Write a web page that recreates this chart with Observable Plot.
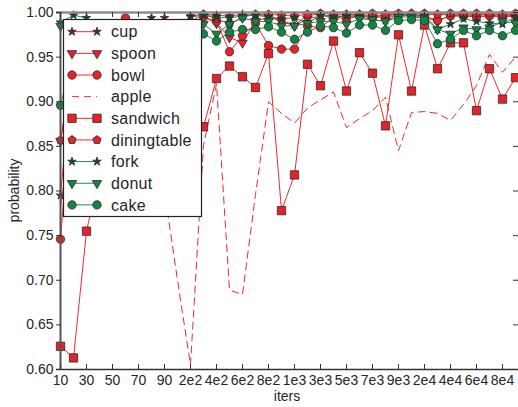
<!DOCTYPE html>
<html>
<head>
<meta charset="utf-8">
<script src="https://cdn.jsdelivr.net/npm/d3@7"></script>
<script src="https://cdn.jsdelivr.net/npm/@observablehq/plot@0.6"></script>
<style>
  html, body { margin: 0; padding: 0; background: #fff; }
  #chart { width: 518px; height: 407px; }
</style>
</head>
<body>
<div id="chart"></div>
<script>
// ---- data ----
const iters = [10,20,30,40,50,60,70,80,90,
  100,200,300,400,500,600,700,800,900,
  1000,2000,3000,4000,5000,6000,7000,8000,9000,
  10000,20000,30000,40000,50000,60000,70000,80000,90000];
const tickIters = [10,30,50,70,90,200,400,600,800,1000,3000,5000,7000,9000,20000,40000,60000,80000];
const tickLabels = ["10","30","50","70","90","2e2","4e2","6e2","8e2","1e3","3e3","5e3","7e3","9e3","2e4","4e4","6e4","8e4"];
const yTicks = [0.60,0.65,0.70,0.75,0.80,0.85,0.90,0.95,1.00];
const seriesNames = ["cup","spoon","bowl","apple","sandwich","diningtable","fork","donut","cake"];

const cup = [0.795,0.95,0.97,0.975,0.97,0.975,0.97,0.975,0.994,0.98,0.996,0.998,0.997,0.996,0.998,0.997,0.997,0.991,0.986,0.997,0.998,0.993,0.997,0.998,0.993,0.998,0.998,0.999,0.998,0.998,0.997,0.998,0.998,0.998,0.997,0.998];
const spoon = [0.856,0.94,0.96,0.965,0.97,0.965,0.97,0.975,0.97,0.975,0.985,0.995,0.988,0.972,0.966,0.99,0.995,0.99,0.985,0.993,0.996,0.997,0.995,0.997,0.997,0.996,0.998,0.997,0.997,0.99,0.997,0.996,0.997,0.997,0.996,0.997];
const bowl = [0.746,0.93,0.95,0.96,0.965,0.994,0.97,0.965,0.97,0.975,0.985,0.995,0.99,0.956,0.974,0.988,0.963,0.959,0.959,0.985,0.983,0.995,0.993,0.996,0.996,0.994,0.997,0.997,0.994,0.991,0.996,0.996,0.995,0.996,0.995,0.996];
const apple = [0.783,0.88,0.9,0.92,0.9,0.91,0.9,0.88,0.80,0.70,0.605,0.851,0.920,0.689,0.684,0.796,0.900,0.887,0.876,0.893,0.902,0.911,0.871,0.881,0.890,0.905,0.845,0.888,0.889,0.887,0.879,0.897,0.918,0.953,0.933,0.950];
const sandwich = [0.626,0.613,0.755,0.82,0.86,0.88,0.85,0.88,0.9,0.87,0.85,0.872,0.926,0.940,0.928,0.916,0.954,0.778,0.818,0.942,0.918,0.968,0.912,0.955,0.932,0.873,0.975,0.912,0.986,0.937,0.966,0.966,0.890,0.937,0.903,0.927];
const diningtable = [0.857,0.95,0.96,0.97,0.975,0.97,0.975,0.97,0.975,0.97,0.99,0.998,0.993,0.987,0.995,0.998,0.998,0.997,0.996,0.998,0.999,0.998,0.998,0.998,0.999,0.998,0.999,0.999,0.999,0.998,0.999,0.999,0.999,0.999,0.998,0.999];
const fork = [0.989,0.997,0.994,0.975,0.97,0.975,0.98,0.994,0.98,0.985,0.995,0.997,0.995,0.994,0.996,0.997,0.995,0.993,0.994,0.988,0.997,0.995,0.996,0.996,0.991,0.991,0.996,0.997,0.997,0.981,0.987,0.993,0.99,0.988,0.987,0.995];
const donut = [0.985,0.97,0.965,0.96,0.965,0.96,0.965,0.97,0.965,0.97,0.98,0.987,0.976,0.987,0.994,0.99,0.99,0.985,0.985,0.988,0.99,0.99,0.987,0.993,0.992,0.99,0.995,0.995,0.994,0.981,0.976,0.983,0.981,0.983,0.99,0.988];
const cake = [0.896,0.955,0.96,0.955,0.96,0.955,0.96,0.955,0.96,0.965,0.97,0.976,0.968,0.978,0.981,0.981,0.984,0.978,0.97,0.978,0.985,0.983,0.977,0.986,0.986,0.98,0.991,0.992,0.991,0.965,0.97,0.98,0.974,0.98,0.974,0.98];

const seriesValues = {cup, spoon, bowl, apple, sandwich, diningtable, fork, donut, cake};

// ---- custom symbols ----
const triangleDown = {
  draw(ctx, size) {
    const a = Math.sqrt(4 * size / Math.sqrt(3));
    const h = a * Math.sqrt(3) / 2;
    ctx.moveTo(-a / 2, -h / 3);
    ctx.lineTo(a / 2, -h / 3);
    ctx.lineTo(0, 2 * h / 3);
    ctx.closePath();
  }
};
const pentagon = {
  draw(ctx, size) {
    const R = Math.sqrt(size / (2.5 * Math.sin(2 * Math.PI / 5)));
    for (let k = 0; k < 5; k++) {
      const ang = -Math.PI / 2 + k * 2 * Math.PI / 5;
      const px = R * Math.cos(ang), py = R * Math.sin(ang);
      if (k === 0) ctx.moveTo(px, py); else ctx.lineTo(px, py);
    }
    ctx.closePath();
  }
};

const RED = "#ee2a2e", REDF = "#e3242b", GREEN = "#1f8b4c", GREENF = "#138443", EDGE = "#2b2b2b";
const styles = {
  cup:         {line: RED,   dash: null,  symbol: d3.symbolStar,   r: 2.7, fill: "#7a1a1a"},
  spoon:       {line: RED,   dash: null,  symbol: triangleDown,    r: 3.5, fill: REDF},
  bowl:        {line: RED,   dash: null,  symbol: d3.symbolCircle, r: 4.2, fill: REDF},
  apple:       {line: RED,   dash: "7,5", symbol: null},
  sandwich:    {line: RED,   dash: null,  symbol: d3.symbolSquare, r: 4.7, fill: REDF},
  diningtable: {line: RED,   dash: null,  symbol: pentagon,        r: 3.8, fill: REDF},
  fork:        {line: GREEN, dash: null,  symbol: d3.symbolStar,   r: 2.7, fill: "#0f4d25"},
  donut:       {line: GREEN, dash: null,  symbol: triangleDown,    r: 3.5, fill: GREENF},
  cake:        {line: GREEN, dash: null,  symbol: d3.symbolCircle, r: 4.2, fill: GREENF}
};

const marks = [];
for (const name of seriesNames) {
  const rows = seriesValues[name].map((p, i) => ({name, iter: iters[i], p}));
  const st = styles[name];
  marks.push(Plot.line(rows, {x: "iter", y: "p", stroke: st.line, strokeWidth: 1,
    strokeDasharray: st.dash || undefined}));
  if (st.symbol) {
    marks.push(Plot.dot(rows, {x: "iter", y: "p", symbol: st.symbol, r: st.r,
      fill: st.fill, stroke: EDGE, strokeWidth: 0.8}));
  }
}

const W = 518, H = 407, ML = 56, MR = 0, MT = 12, MB = 38;
const PW = W - ML - MR, PH = H - MT - MB;

const chart = Plot.plot({
  width: W, height: H,
  marginLeft: ML, marginRight: MR, marginTop: MT, marginBottom: MB,
  style: {fontFamily: "'Liberation Sans', Arial, sans-serif", fontSize: "14px", color: "#262626", background: "#fff", overflow: "visible"},
  x: {type: "point", domain: iters, padding: 0},
  y: {domain: [0.6, 1.0]},
  marks: [
    ...marks,
    // box lines
    Plot.ruleY([1.0], {stroke: "#8c8c8c", strokeWidth: 2.5}),
    Plot.ruleY([0.6], {stroke: "#333", strokeWidth: 1.5}),
    Plot.ruleX([iters[0]], {stroke: "#555", strokeWidth: 2}),
    // inward ticks
    Plot.tickX(tickIters, {x: d => d, insetTop: PH - 5, stroke: "#333", strokeWidth: 1}),
    Plot.tickX(tickIters, {x: d => d, insetBottom: PH - 5, stroke: "#333", strokeWidth: 1}),
    Plot.tickY(yTicks, {y: d => d, insetRight: PW - 5, stroke: "#333", strokeWidth: 1}),
    Plot.tickY(yTicks, {y: d => d, insetLeft: PW - 5, stroke: "#333", strokeWidth: 1}),
    Plot.axisX(tickIters, {tickFormat: d => tickLabels[tickIters.indexOf(d)], tickSize: 0, tickPadding: 6, label: null, fontSize: 14}),
    Plot.axisY(yTicks, {tickFormat: d3.format(".2f"), tickSize: 0, tickPadding: 3, label: null, fontSize: 14})
  ]
});

document.getElementById("chart").appendChild(chart);

// ---- axis titles and legend ----
const svg = d3.select(chart);
svg.append("text").attr("x", ML + PW / 2).attr("y", 401).attr("text-anchor", "middle")
  .attr("fill", "#262626").style("font-size", "14px").text("iters");
svg.append("text").attr("transform", `translate(18.5,${MT + PH / 2}) rotate(-90)`).attr("text-anchor", "middle")
  .attr("fill", "#262626").style("font-size", "14px").text("probability");

const lg = svg.append("g");
lg.append("rect").attr("x", 63.5).attr("y", 19.5).attr("width", 138).attr("height", 197)
  .attr("fill", "#fff").attr("stroke", "#222").attr("stroke-width", 1.2);
seriesNames.forEach((name, k) => {
  const st = styles[name];
  const yy = 31.7 + k * 21.65;
  lg.append("line").attr("x1", 72).attr("x2", 97).attr("y1", yy).attr("y2", yy)
    .attr("stroke", st.line).attr("stroke-width", 1).attr("stroke-dasharray", st.dash);
  if (st.symbol) {
    const path = d3.symbol(st.symbol, Math.PI * st.r * st.r)();
    for (const xx of [72, 97]) {
      lg.append("path").attr("d", path).attr("transform", `translate(${xx},${yy})`)
        .attr("fill", st.fill).attr("stroke", EDGE).attr("stroke-width", 0.8);
    }
  }
  lg.append("text").attr("x", 111).attr("y", yy).attr("dy", "0.35em").attr("text-anchor", "start")
    .attr("fill", "#262626").style("font-size", "16px").style("letter-spacing", "0.3px").text(name);
});
</script>
</body>
</html>
